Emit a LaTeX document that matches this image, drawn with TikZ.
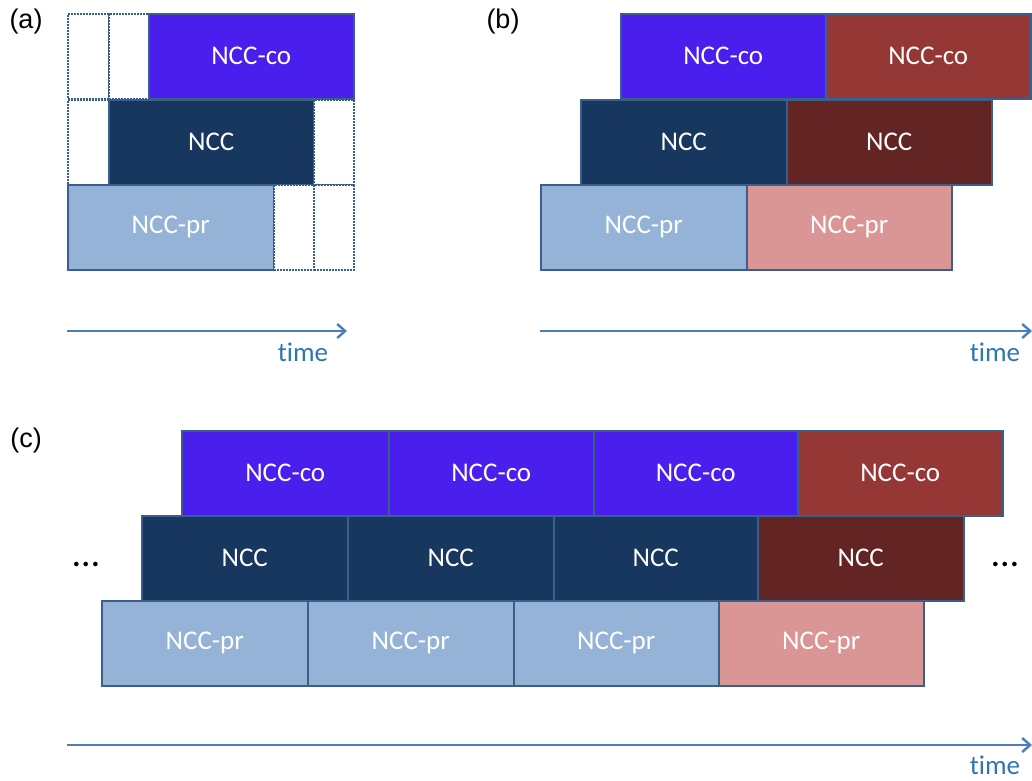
\documentclass[tikz,border=0pt]{standalone}
\usepackage{fontspec}
\setmainfont[Ligatures={NoCommon}]{Carlito}
\newfontfamily\lblfont{Liberation Sans}
\usetikzlibrary{arrows.meta}
\definecolor{cco}{HTML}{4A1EEC}
\definecolor{cncc}{HTML}{17375E}
\definecolor{cpr}{HTML}{95B3D7}
\definecolor{rco}{HTML}{953735}
\definecolor{rncc}{HTML}{632523}
\definecolor{rpr}{HTML}{D99694}
\definecolor{edge}{HTML}{3A5F8C}
\definecolor{arr}{HTML}{4A7EBB}
\definecolor{timec}{HTML}{2E75B6}
\tikzset{
  blk/.style={draw=edge, line width=1.5pt, anchor=north west, minimum height=85pt, inner sep=0pt,
    text=white, font=\fontsize{27}{30}\selectfont},
  emptyblk/.style={draw=edge, line width=1.8pt, dash pattern=on 1.6pt off 1.4pt, fill=white, anchor=north west, minimum height=85pt, inner sep=0pt},
  tarrow/.style={draw=arr, line width=2.4pt, -{Straight Barb[length=8pt,width=14pt,line width=2.4pt]}},
  timelbl/.style={text=timec, font=\fontsize{27}{30}\selectfont, inner sep=0pt},
  plbl/.style={font=\lblfont\fontsize{27}{30}\selectfont, inner sep=0pt},
  dots/.style={font=\fontsize{38}{40}\selectfont, inner sep=0pt}
}
\begin{document}
\begin{tikzpicture}[x=1pt,y=-1pt]
\useasboundingbox (0,0) rectangle (1032,780);
% (a)
\node[plbl] (la) at (26,22) {(a)};
\node[emptyblk, minimum width=41pt] (a1) at (67,13) {};
\node[emptyblk, minimum width=40pt] (a2) at (108,13) {};
\node[blk, fill=cco, minimum width=205pt] (aco) at (148,13) {NCC-co};
\node[emptyblk, minimum width=41pt] (a3) at (67,99) {};
\node[blk, fill=cncc, minimum width=205pt] (ancc) at (108,99) {NCC};
\node[emptyblk, minimum width=40pt] (a4) at (313,99) {};
\node[blk, fill=cpr, minimum width=206pt] (apr) at (67,184) {NCC-pr};
\node[emptyblk, minimum width=40pt] (a5) at (273,184) {};
\node[emptyblk, minimum width=40pt] (a6) at (313,184) {};
\coordinate (as) at (67,331);
\coordinate (ae) at (347,331);
\draw[tarrow] (as) -- (ae);
\node[timelbl] (ta) at (303,352) {time};
% (b)
\node[plbl] (lb) at (503,22) {(b)};
\node[blk, fill=cco, minimum width=205pt] (bco1) at (620,13) {NCC-co};
\node[blk, fill=rco, minimum width=205pt] (bco2) at (825,13) {NCC-co};
\node[blk, fill=cncc, minimum width=206pt] (bncc1) at (580,99) {NCC};
\node[blk, fill=rncc, minimum width=205pt] (bncc2) at (786,99) {NCC};
\node[blk, fill=cpr, minimum width=206pt] (bpr1) at (540,184) {NCC-pr};
\node[blk, fill=rpr, minimum width=205pt] (bpr2) at (746,184) {NCC-pr};
\coordinate (bs) at (540,331);
\coordinate (be) at (1032,331);
\draw[tarrow] (bs) -- (be);
\node[timelbl] (tb) at (995,352) {time};
% (c)
\node[plbl] (lc) at (26,441) {(c)};
\node[blk, fill=cco, minimum width=207pt] (cco1) at (181,430) {NCC-co};
\node[blk, fill=cco, minimum width=205pt] (cco2) at (388,430) {NCC-co};
\node[blk, fill=cco, minimum width=204pt] (cco3) at (593,430) {NCC-co};
\node[blk, fill=rco, minimum width=205pt] (cco4) at (797,430) {NCC-co};
\node[blk, fill=cncc, minimum width=206pt] (cncc1) at (141,515) {NCC};
\node[blk, fill=cncc, minimum width=206pt] (cncc2) at (347,515) {NCC};
\node[blk, fill=cncc, minimum width=204pt] (cncc3) at (553,515) {NCC};
\node[blk, fill=rncc, minimum width=206pt] (cncc4) at (757,515) {NCC};
\node[blk, fill=cpr, minimum width=206pt] (cpr1) at (101,600) {NCC-pr};
\node[blk, fill=cpr, minimum width=206pt] (cpr2) at (307,600) {NCC-pr};
\node[blk, fill=cpr, minimum width=205pt] (cpr3) at (513,600) {NCC-pr};
\node[blk, fill=rpr, minimum width=205pt] (cpr4) at (718,600) {NCC-pr};
\node[dots] (d1) at (86,564) {\dots};
\node[dots] (d2) at (1005,564) {\dots};
\coordinate (cs) at (67,745);
\coordinate (ce) at (1032,745);
\draw[tarrow] (cs) -- (ce);
\node[timelbl] (tc) at (995,765) {time};
\end{tikzpicture}
\end{document}
